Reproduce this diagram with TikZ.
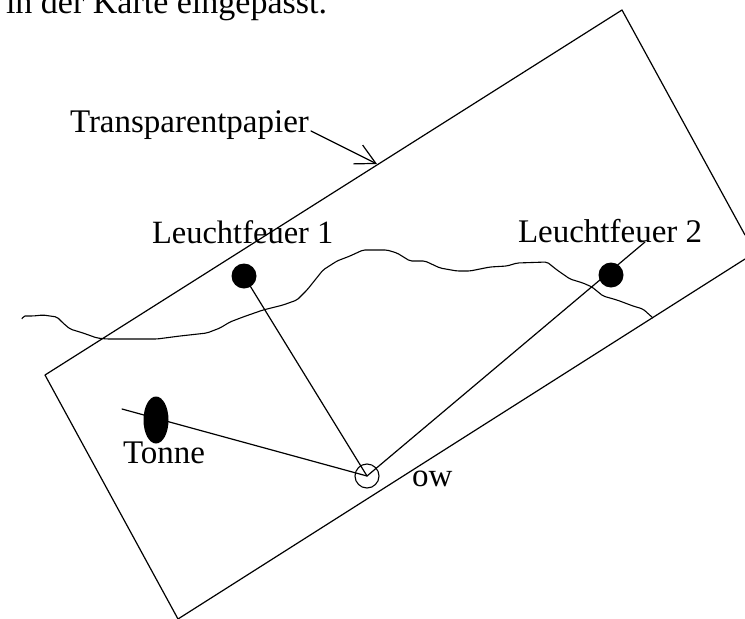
\documentclass[tikz,border=0pt]{standalone}
\usepackage{fontspec}
\setmainfont{Liberation Serif}
\usetikzlibrary{arrows.meta,shapes.geometric}
\tikzset{
  ink/.style={line width=1.2pt,black,line cap=round,line join=round},
  coast/.style={line width=1.1pt,black,line join=round,rounded corners=2pt},
  label/.style={anchor=base west,inner sep=0pt,outer sep=0pt,font=\fontsize{33}{36}\selectfont},
  dot/.style={circle,fill=black,inner sep=0pt,minimum size=25pt},
  buoy/.style={ellipse,fill=black,inner sep=0pt,minimum width=25pt,minimum height=47pt},
  observer/.style={circle,draw=black,line width=1.1pt,inner sep=0pt,minimum size=24pt}
}
\begin{document}
\begin{tikzpicture}[x=1pt,y=-1pt]
\useasboundingbox (0,0) rectangle (745,619);
\clip (0,0) rectangle (745,619);
% sheet corners
\coordinate (sheetL) at (45,375);
\coordinate (sheetT) at (622,10);
\coordinate (sheetR1) at (745,235);
\coordinate (sheetR2) at (745,259);
\coordinate (sheetB) at (178,619);
\draw[ink] (sheetR1) -- (sheetT) -- (sheetL) -- (sheetB) -- (sheetR2);
% coast
\draw[coast] (22,319) -- (23,316) -- (33,316) -- (43,315) -- (57,317) -- (63,323) -- (70,329) -- (83,333) -- (97,338) -- (107,339) -- (147,339) -- (157,339) -- (180,336) -- (207,333) -- (220,328) -- (230,322) -- (243,317) -- (263,310) -- (283,305) -- (297,300) -- (307,290) -- (323,270) -- (337,261) -- (350,256) -- (363,250) -- (387,250) -- (397,253) -- (410,261) -- (425,261) -- (440,268) -- (457,271) -- (470,271) -- (490,267) -- (507,266) -- (517,263) -- (547,262) -- (557,270) -- (570,279) -- (583,283) -- (592,287) -- (603,296) -- (617,300) -- (633,306) -- (643,309) -- (653,318);
% marks
\node[observer] (ow) at (367,476) {};
\coordinate (owc) at (367,476);
\node[dot] (lf1) at (244,276) {};
\node[dot] (lf2) at (611,275) {};
\coordinate (lf2end) at (645,242);
\coordinate (tonneend) at (122,409);
% bearings
\draw[ink] (lf1.center) -- (owc);
\draw[ink] (lf2end) -- (owc);
\draw[ink] (tonneend) -- (owc);
\node[buoy] (tonnemark) at (156,420) {};
% labels
\node[label] (tp) at (70,132) {Transparentpapier};
\node[label,font=\fontsize{32.5}{36}\selectfont] (l1) at (152,243) {Leuchtfeuer 1};
\node[label] (l2) at (518,242) {Leuchtfeuer 2};
\node[label] (tn) at (123,463) {Tonne};
\node[label] (owl) at (412,486) {ow};
\node[label,font=\fontsize{34}{36}\selectfont] (top) at (6,13) {in der Karte eingepasst.};
% arrow
\coordinate (tpstart) at (311,131);
\coordinate (tptip) at (377,164);
\draw[ink,-{Straight Barb[length=20pt,width=21pt,line width=1.2pt]}] (tpstart) -- (tptip);
\end{tikzpicture}
\end{document}
